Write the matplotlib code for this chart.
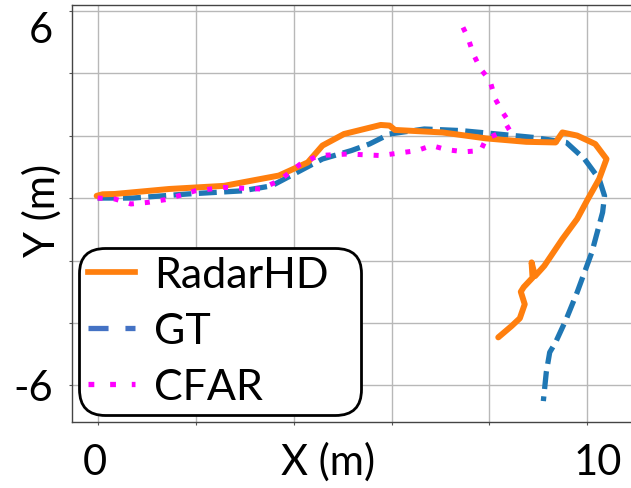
import numpy as np
import matplotlib
matplotlib.use("Agg")
import matplotlib.pyplot as plt
from matplotlib.lines import Line2D

plt.rcParams['font.family'] = ['Lato', 'DejaVu Sans']

# trajectories (m)
radarhd_x = [-0.02, 0.10, 0.35, 1.46, 2.58, 3.70, 4.29, 4.59, 5.03, 5.78, 5.96, 6.07,
             7.04, 7.93, 8.75, 9.35, 9.49, 9.79, 10.16, 10.39, 10.24, 10.01, 9.79,
             9.49, 9.12, 8.93, 8.86, 8.88, 8.70, 8.64, 8.72, 8.62, 8.45, 8.18]
radarhd_y = [0.07, 0.12, 0.13, 0.29, 0.39, 0.72, 1.14, 1.68, 2.05, 2.34, 2.32, 2.18,
             2.10, 1.91, 1.80, 1.78, 2.10, 2.00, 1.73, 1.25, 0.61, -0.03, -0.67,
             -1.31, -2.17, -2.50, -2.06, -2.55, -2.85, -3.00, -3.40, -3.85, -4.10, -4.46]

gt_x = [0.0, 0.72, 1.84, 2.95, 3.55, 4.07, 4.59, 5.18, 5.55, 5.96, 6.67, 7.41, 8.16,
        8.90, 9.57, 9.94, 10.24, 10.35, 10.31, 10.09, 9.79, 9.57, 9.35, 9.23, 9.16, 9.10]
gt_y = [0.0, 0.0, 0.13, 0.23, 0.39, 0.82, 1.25, 1.52, 1.73, 2.05, 2.21, 2.16, 2.05,
        1.94, 1.78, 1.25, 0.61, 0.07, -0.46, -1.74, -3.02, -3.87, -4.62, -4.94, -5.58, -6.50]

cfar_x = [0.0, 0.35, 0.68, 1.02, 1.39, 1.99, 2.58, 3.32, 3.70, 4.14, 4.51, 5.11, 5.78,
          6.52, 6.82, 7.12, 7.49, 7.82, 7.93, 8.16, 8.45, 8.27, 8.12, 8.01, 7.82, 7.67,
          7.56, 7.41]
cfar_y = [0.0, -0.03, -0.19, -0.14, -0.05, 0.23, 0.34, 0.29, 0.55, 1.09, 1.36, 1.41,
          1.36, 1.52, 1.68, 1.55, 1.48, 1.52, 1.89, 2.05, 2.32, 2.74, 3.17, 3.76, 4.13,
          4.61, 5.14, 5.62]

labels = ['RadarHD', 'GT', 'CFAR']
colors = ['#ff7f0e', '#1f77b4', '#ff00ff']

W, H = 631, 489
fig = plt.figure(figsize=(W / 100, H / 100), dpi=100)


def fx(px):
    return px / W


def fy(py):
    return 1 - py / H


ax = fig.add_axes([fx(71.7), fy(422.7), 1 - fx(71.7), fy(6) - fy(422.7)])

ax.plot(gt_x, gt_y, color=colors[1], lw=3.8, linestyle=(0, (3.4, 1.4)), zorder=2)
ax.plot(radarhd_x, radarhd_y, color=colors[0], lw=4.3, solid_capstyle='round',
        solid_joinstyle='round', zorder=3)
ax.plot(cfar_x, cfar_y, color=colors[2], lw=3.6, linestyle=(0, (1, 2.2)), zorder=4)

ax.set_xlim(-0.53, 10.89)
ax.set_ylim(-7.16, 6.18)
ax.set_xticks(np.arange(0, 11, 2))
ax.set_yticks(np.arange(-6, 7, 2))
ax.set_xticklabels([])
ax.set_yticklabels([])
ax.tick_params(length=2.5, width=0.8, color='#555555')
ax.grid(True, color='#b8b8b8', lw=1.0)
ax.set_axisbelow(True)
for s in ['left', 'bottom', 'top']:
    ax.spines[s].set_color('#444444')
    ax.spines[s].set_linewidth(1.0)
ax.spines['right'].set_visible(False)

fs = 30
fig.text(fx(53), fy(43), '6', ha='right', va='baseline', fontsize=fs)
fig.text(fx(53), fy(401), '-6', ha='right', va='baseline', fontsize=fs)
fig.text(fx(95), fy(475), '0', ha='center', va='baseline', fontsize=fs)
fig.text(fx(598), fy(475), '10', ha='center', va='baseline', fontsize=fs)
fig.text(fx(328), fy(475), 'X (m)', ha='center', va='baseline', fontsize=fs)
fig.text(fx(42), fy(210), 'Y (m)', ha='center', va='center', rotation=90, fontsize=fs)

handles = [
    Line2D([], [], color=colors[0], lw=4.1),
    Line2D([], [], color='#4472c4', lw=3.8, linestyle=(0, (3.8, 3.2))),
    Line2D([], [], color=colors[2], lw=3.8, linestyle=(0, (1.1, 3.0))),
]
leg = fig.legend(handles, labels, loc='lower left',
                 bbox_to_anchor=(fx(79), fy(416), fx(361) - fx(79), fy(245) - fy(416)),
                 mode='expand', borderaxespad=0, fontsize=31,
                 handlelength=1.11, handletextpad=0.44, labelspacing=0.42,
                 borderpad=0.2, framealpha=1, fancybox=True)
frame = leg.get_frame()
frame.set_boxstyle('round,pad=0,rounding_size=0.6')
frame.set_edgecolor('black')
frame.set_linewidth(2.0)

fig.savefig('out.png', dpi=100)
